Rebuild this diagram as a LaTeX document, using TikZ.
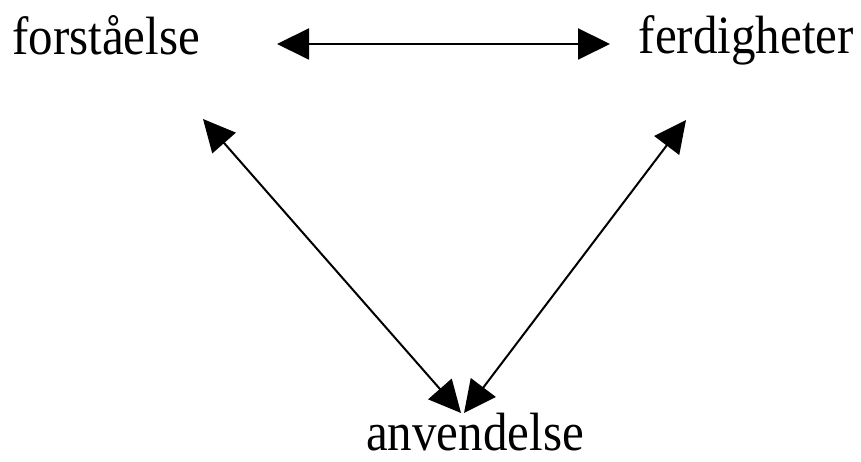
\documentclass[tikz,border=0pt]{standalone}
\usepackage{fontspec}
\setmainfont{Liberation Serif}
\usetikzlibrary{arrows.meta}
\begin{document}
\begin{tikzpicture}[x=1pt,y=1pt,
  lbl/.style={inner sep=0pt,font=\fontsize{49}{59}\selectfont,yscale=1.1,transform shape},
  conn/.style={line width=2pt,{Triangle[length=32pt,width=31pt]}-{Triangle[length=32pt,width=31pt]}}]
\useasboundingbox (0,0) rectangle (861,462);
\node[lbl,anchor=base west] (f) at (12,407) {forståelse};
\node[lbl,anchor=base east] (d) at (854,408) {ferdigheter};
\node[lbl,anchor=base] (a) at (475,11) {anvendelse};
\coordinate (h1) at (277,418);
\coordinate (h2) at (610,418);
\coordinate (l1) at (203,343);
\coordinate (r1) at (686,342);
\coordinate (b1) at (461,49);
\coordinate (b2) at (464,49);
\draw[conn] (h1) -- (h2);
\draw[conn] (l1) -- (b1);
\draw[conn] (r1) -- (b2);
\end{tikzpicture}
\end{document}
